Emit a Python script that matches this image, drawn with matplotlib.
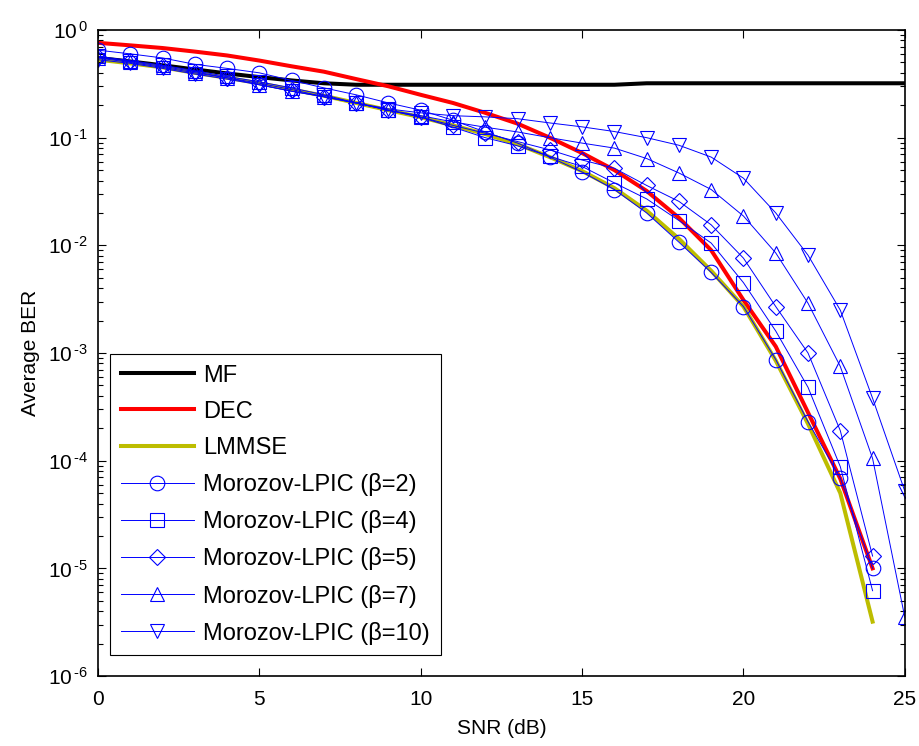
import numpy as np
import matplotlib
matplotlib.use('Agg')
import matplotlib.pyplot as plt
from matplotlib.ticker import FuncFormatter, NullFormatter

plt.rcParams['font.family'] = ['Liberation Sans', 'DejaVu Sans']
plt.rcParams['mathtext.fontset'] = 'custom'
plt.rcParams['mathtext.rm'] = 'Liberation Sans'

# SNR grid
snr = np.arange(0, 26)

mf = [0.55, 0.51, 0.47, 0.43, 0.395, 0.365, 0.34, 0.32, 0.31, 0.31, 0.31, 0.31, 0.31,
      0.31, 0.31, 0.31, 0.31, 0.32, 0.32, 0.32, 0.32, 0.32, 0.32, 0.32, 0.32, 0.32]
dec = [0.76, 0.72, 0.68, 0.63, 0.58, 0.52, 0.46, 0.41, 0.35, 0.30, 0.25, 0.21, 0.17,
       0.135, 0.10, 0.072, 0.05, 0.032, 0.018, 0.009, 0.0031, 0.00115, 0.00028, 6.8e-5, 1.0e-5]
lmmse = [0.53, 0.49, 0.45, 0.40, 0.36, 0.32, 0.28, 0.245, 0.21, 0.18, 0.155, 0.13, 0.108,
         0.087, 0.066, 0.049, 0.034, 0.021, 0.0115, 0.0058, 0.0027, 8.5e-4, 2.2e-4, 5.0e-5, 3.2e-6]

b2 = [0.65, 0.60, 0.55, 0.48, 0.44, 0.40, 0.34, 0.29, 0.25, 0.21, 0.18, 0.145, 0.113,
      0.089, 0.066, 0.048, 0.033, 0.020, 0.0107, 0.0056, 0.0027, 8.7e-4, 2.3e-4, 6.9e-5, 1.0e-5]
b4 = [0.57, 0.52, 0.47, 0.42, 0.37, 0.33, 0.29, 0.25, 0.21, 0.18, 0.155, 0.125, 0.10,
      0.084, 0.067, 0.054, 0.038, 0.027, 0.017, 0.0105, 0.0045, 0.0016, 4.8e-4, 8.8e-5, 6.2e-6]
b5 = [0.56, 0.51, 0.46, 0.41, 0.36, 0.32, 0.28, 0.24, 0.21, 0.18, 0.155, 0.13, 0.11,
      0.092, 0.077, 0.062, 0.052, 0.036, 0.0256, 0.0155, 0.0076, 0.0027, 1.0e-3, 1.9e-4, 1.3e-5]
b7 = [0.55, 0.50, 0.45, 0.40, 0.36, 0.31, 0.27, 0.24, 0.21, 0.18, 0.16, 0.14, 0.125,
      0.113, 0.10, 0.089, 0.080, 0.064, 0.047, 0.033, 0.0187, 0.0085, 0.0029, 7.5e-4, 1.05e-4, 3.5e-6]
b10 = [0.53, 0.49, 0.44, 0.39, 0.35, 0.31, 0.27, 0.24, 0.21, 0.185, 0.17, 0.16, 0.156,
       0.150, 0.137, 0.126, 0.114, 0.10, 0.085, 0.066, 0.042, 0.020, 0.0081, 0.0025, 3.8e-4, 5.2e-5]


def sci_label(v, pos):
    e = int(round(np.log10(v)))
    if e < 0:
        return r'$\mathregular{10^{\,\text{-}%d}}$' % (-e)
    return r'$\mathregular{10^{\,%d}}$' % e


fig = plt.figure(figsize=(9.19, 7.46), dpi=100)
ax = fig.add_axes([0.1066, 0.0938, 0.878, 0.866])

ax.semilogy(snr[:len(mf)], mf, color='black', lw=2.9, label='MF')
ax.semilogy(snr[:len(dec)], dec, color='red', lw=2.9, label='DEC')
ax.semilogy(snr[:len(lmmse)], lmmse, color='#BDBD00', lw=2.9, label='LMMSE')

blue_series = [(b2, 'o', '2'), (b4, 's', '4'), (b5, 'D', '5'), (b7, '^', '7'), (b10, 'v', '10')]
for vals, mk, beta in blue_series:
    ms = 10.5 if mk != 'D' else 8
    ax.semilogy(snr[:len(vals)], vals, color='blue', lw=0.7, marker=mk, ms=ms,
                mfc='none', mec='blue', mew=0.8,
                label='Morozov-LPIC (\u03b2=' + beta + ')')

ax.set_xlim(0, 25)
ax.set_ylim(1e-6, 1)
ax.set_xticks([0, 5, 10, 15, 20, 25])
ax.yaxis.set_major_formatter(FuncFormatter(sci_label))
ax.yaxis.set_minor_formatter(NullFormatter())
ax.tick_params(axis='both', which='both', direction='in', top=True, right=True,
               labelsize=15)
ax.tick_params(axis='x', pad=10)
ax.tick_params(axis='y', pad=7)
ax.tick_params(which='major', length=6, width=0.8)
ax.tick_params(which='minor', length=3.5, width=0.8)
ax.set_xlabel('SNR (dB)', fontsize=15, labelpad=7)
ax.set_ylabel('Average BER', fontsize=15, labelpad=6)
for s in ax.spines.values():
    s.set_linewidth(1.2)

leg = ax.legend(loc='lower left', bbox_to_anchor=(0.015, 0.032), fontsize=17,
                handlelength=3.1, handletextpad=0.4, labelspacing=0.6, borderaxespad=0,
                fancybox=False, edgecolor='black', framealpha=1, borderpad=0.45)
leg.get_frame().set_linewidth(0.8)

fig.savefig('out.png', dpi=100)
